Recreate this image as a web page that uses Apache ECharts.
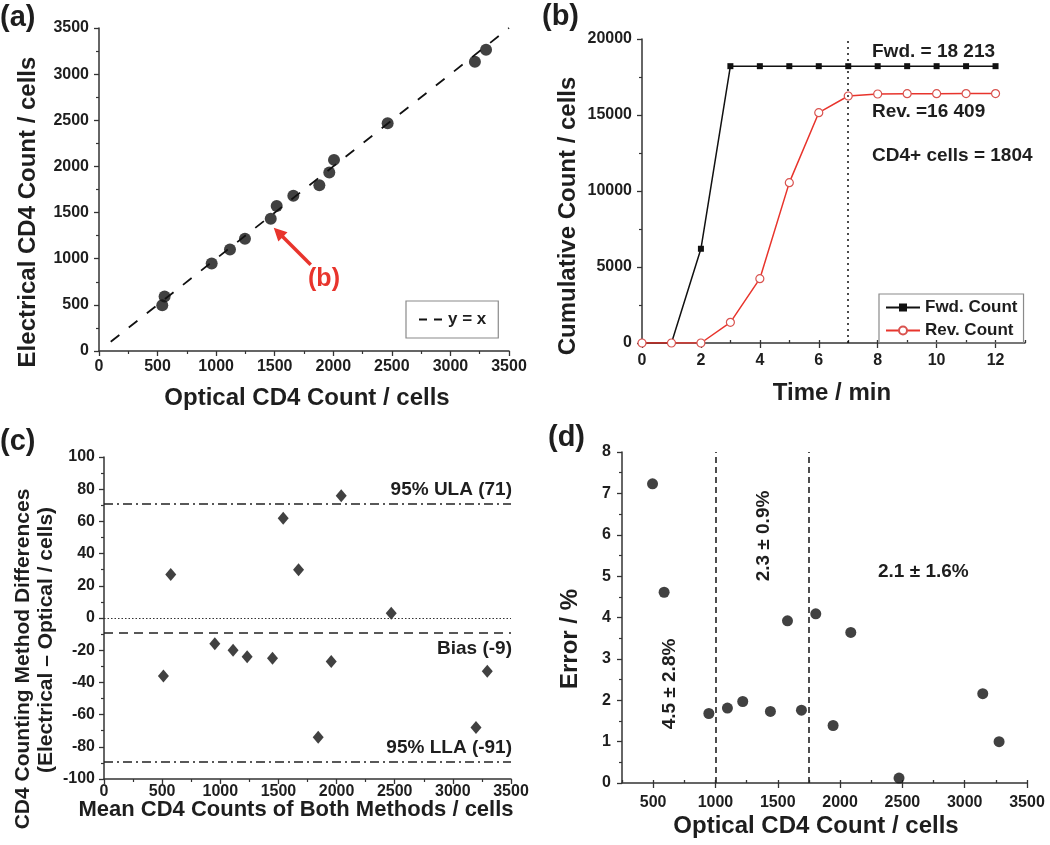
<!DOCTYPE html>
<html><head><meta charset="utf-8">
<script src="https://cdn.jsdelivr.net/npm/echarts@6/dist/echarts.min.js"></script>
<style>html,body{margin:0;padding:0;background:#fff}#c{width:1050px;height:845px}</style>
</head><body><div id="c"></div><script>
// ---------- Panel (a) ----------
const opticalA = [540, 560, 962, 1118, 1246, 1466, 1517, 1659, 1881, 1966, 2006, 2464, 3209, 3304];
const electricalA = [496, 590, 949, 1101, 1216, 1433, 1571, 1683, 1796, 1933, 2071, 2469, 3135, 3265];
const identityLine = [[100, 100], [3500, 3500]];
const arrowTarget = [1466, 1433];
// ---------- Panel (b) ----------
const timeMin = [0, 1, 2, 3, 4, 5, 6, 7, 8, 9, 10, 11, 12];
const fwdCount = [0, 0, 6200, 18213, 18213, 18213, 18213, 18213, 18213, 18213, 18213, 18213, 18213];
const revCount = [0, 0, 0, 1360, 4230, 10550, 15150, 16250, 16380, 16400, 16405, 16409, 16409];
const stopTime = 7;
const xTicksB = [0, 2, 4, 6, 8, 10, 12];
// ---------- Panel (c) ----------
const meanC = [511, 574, 953, 1110, 1231, 1449, 1541, 1673, 1842, 1954, 2040, 2470, 3199, 3296];
const diffC = [-36, 27, -16, -20, -24, -25, 62, 30, -74, -27, 76, 3, -68, -33];
const biasC = -9, ulaC = 71, llaC = -89;
// ---------- Panel (d) ----------
const opticalD = [495, 588, 947, 1096, 1219, 1441, 1578, 1690, 1805, 1944, 2086, 2473, 3145, 3276];
const errorD = [7.23, 4.61, 1.68, 1.81, 1.97, 1.73, 3.92, 1.76, 4.09, 1.39, 3.64, 0.12, 2.16, 1.0];
const rangeBounds = [1000, 1750];
const xTicksD = [500, 1000, 1500, 2000, 2500, 3000, 3500];

const FONT = "'Liberation Sans', Arial, sans-serif";
const INK = '#1e1e1e';
const AX = '#333';

function axis(o) {
  const base = {
    axisLine: { show: true, onZero: false, lineStyle: { color: AX, width: 1.5 } },
    axisTick: { show: true, length: 5, lineStyle: { color: AX, width: 1.3 } },
    minorTick: { show: true, splitNumber: 2, length: 3, lineStyle: { color: AX, width: 1.2 } },
    splitLine: { show: false },
    axisLabel: { fontFamily: FONT, fontWeight: 'bold', fontSize: 16, color: INK, margin: 9,
      formatter: v => String(v) }
  };
  const r = Object.assign({}, base, o);
  if (o.axisLabel) r.axisLabel = Object.assign({}, base.axisLabel, o.axisLabel);
  if (o.axisTick) r.axisTick = Object.assign({}, base.axisTick, o.axisTick);
  if (o.minorTick) r.minorTick = Object.assign({}, base.minorTick, o.minorTick);
  return r;
}

function txt(x, y, text, opt) {
  opt = opt || {};
  return {
    type: 'text', x: x, y: y, rotation: opt.rot || 0, z: 100,
    style: {
      text: text, fontFamily: FONT, fontWeight: 'bold', fontSize: opt.size || 19,
      fill: opt.color || INK, align: opt.align || 'left', verticalAlign: 'middle'
    }
  };
}
const V = Math.PI / 2;

const chart = echarts.init(document.getElementById('c'), null, { renderer: 'canvas' });
const option = {
  backgroundColor: '#fff',
  animation: false,
  grid: [
    { left: 99, top: 28, width: 410, height: 323 },
    { left: 642, top: 39, width: 383, height: 304 },
    { left: 104, top: 457, width: 407, height: 322 },
    { left: 622, top: 452, width: 405, height: 331 }
  ],
  xAxis: [
    axis({ gridIndex: 0, type: 'value', min: 0, max: 3500, interval: 500, axisLabel: { margin: 8 } }),
    axis({ gridIndex: 1, type: 'value', min: 0, max: 13, interval: 1,
      axisTick: { customValues: xTicksB }, minorTick: { show: false },
      axisLabel: { customValues: xTicksB, margin: 10 } }),
    axis({ gridIndex: 2, type: 'value', min: 0, max: 3500, interval: 500, axisLabel: { margin: 5 } }),
    axis({ gridIndex: 3, type: 'value', min: 250, max: 3500, interval: 250,
      axisTick: { customValues: xTicksD }, minorTick: { show: false },
      axisLabel: { customValues: xTicksD, margin: 12 } }),
    // minor-tick overlays
    axis({ gridIndex: 1, type: 'value', min: 0, max: 13, interval: 1, axisLine: { show: false },
      axisTick: { length: 3 }, minorTick: { show: false }, axisLabel: { show: false } }),
    axis({ gridIndex: 3, type: 'value', min: 250, max: 3500, interval: 250, axisLine: { show: false },
      axisTick: { length: 3 }, minorTick: { show: false }, axisLabel: { show: false } })
  ],
  yAxis: [
    axis({ gridIndex: 0, type: 'value', min: 0, max: 3500, interval: 500, axisLabel: { margin: 10 } }),
    axis({ gridIndex: 1, type: 'value', min: 0, max: 20000, interval: 5000, axisLabel: { margin: 10 } }),
    axis({ gridIndex: 2, type: 'value', min: -100, max: 100, interval: 20, axisLabel: { margin: 9 } }),
    axis({ gridIndex: 3, type: 'value', min: 0, max: 8, interval: 1, axisLabel: { margin: 11 } })
  ],
  legend: [
    {
      data: [{ name: 'y = x', itemStyle: { opacity: 0 } }], left: 406, top: 301, orient: 'vertical',
      borderColor: '#8a8a8a', borderWidth: 1.2, padding: [10, 12, 10, 12],
      itemWidth: 24, itemHeight: 12, itemGap: 0,
      lineStyle: { type: [8, 7], width: 2, color: '#111' },
      textStyle: { fontFamily: FONT, fontWeight: 'bold', fontSize: 17, color: INK }
    },
    {
      data: ['Fwd. Count', 'Rev. Count'], left: 879, top: 294, orient: 'vertical',
      borderColor: '#8a8a8a', borderWidth: 1.2, padding: [5, 6, 4, 6], itemGap: 6,
      itemWidth: 34, itemHeight: 10,
      textStyle: { fontFamily: FONT, fontWeight: 'bold', fontSize: 17, color: INK }
    }
  ],
  series: [
    {
      name: 'y = x', type: 'line', xAxisIndex: 0, yAxisIndex: 0, data: identityLine,
      symbol: 'none', z: 1,
      lineStyle: { color: '#111', width: 1.8, type: [11, 12] }, itemStyle: { color: '#111' }
    },
    {
      name: 'Electrical vs Optical', type: 'scatter', xAxisIndex: 0, yAxisIndex: 0,
      data: opticalA.map((v, i) => [v, electricalA[i]]),
      symbol: 'circle', symbolSize: 12, itemStyle: { color: '#111' }, z: 3
    },
    {
      name: 'Fwd. Count', type: 'line', xAxisIndex: 1, yAxisIndex: 1,
      data: timeMin.map((t, i) => [t, fwdCount[i]]),
      symbol: 'rect', symbolSize: 6, z: 3,
      lineStyle: { color: '#111', width: 1.5 }, itemStyle: { color: '#111' },
      markLine: {
        silent: true, symbol: 'none', label: { show: false },
        lineStyle: { color: '#111', width: 1.5, type: [2, 4] },
        data: [{ xAxis: stopTime }]
      }
    },
    {
      name: 'Rev. Count', type: 'line', xAxisIndex: 1, yAxisIndex: 1,
      data: timeMin.map((t, i) => [t, revCount[i]]),
      symbol: 'circle', symbolSize: 8, z: 4,
      lineStyle: { color: '#e8342c', width: 1.5 },
      itemStyle: { color: '#fff', borderColor: '#d9534f', borderWidth: 1.2 }
    },
    {
      name: 'Differences', type: 'scatter', xAxisIndex: 2, yAxisIndex: 2,
      data: meanC.map((v, i) => [v, diffC[i]]),
      symbol: 'diamond', symbolSize: [11, 13], itemStyle: { color: '#111' }, z: 3,
      markLine: {
        silent: true, symbol: 'none', label: { show: false },
        data: [
          { yAxis: ulaC, lineStyle: { color: '#222', width: 1.5, type: [9, 4, 2, 4] } },
          { yAxis: 0, lineStyle: { color: '#333', width: 1.2, type: [1.5, 2] } },
          { yAxis: biasC, lineStyle: { color: '#222', width: 1.6, type: [9, 6] } },
          { yAxis: llaC, lineStyle: { color: '#222', width: 1.5, type: [9, 4, 2, 4] } }
        ]
      }
    },
    {
      name: 'Error', type: 'scatter', xAxisIndex: 3, yAxisIndex: 3,
      data: opticalD.map((v, i) => [v, errorD[i]]),
      symbol: 'circle', symbolSize: 11, itemStyle: { color: '#111' }, z: 3,
      markLine: {
        silent: true, symbol: 'none', label: { show: false },
        lineStyle: { color: '#222', width: 1.6, type: [6, 4] },
        data: rangeBounds.map(v => ({ xAxis: v }))
      }
    }
  ],
  graphic: [
    // panel letters
    txt(0, 18, '(a)', { size: 29 }),
    txt(542, 17, '(b)', { size: 29 }),
    txt(0, 442, '(c)', { size: 29 }),
    txt(548, 438, '(d)', { size: 29 }),
    // panel (a) titles
    txt(307, 398, 'Optical CD4 Count / cells', { size: 24, align: 'center' }),
    txt(28, 212, 'Electrical CD4 Count / cells', { size: 24, align: 'center', rot: V }),
    txt(324, 279, '(b)', { size: 25, align: 'center', color: '#e8342c' }),
    // panel (b) titles & notes
    txt(832, 393, 'Time / min', { size: 24, align: 'center' }),
    txt(568, 216, 'Cumulative Count / cells', { size: 24, align: 'center', rot: V }),
    txt(872, 52, 'Fwd. = 18 213', { size: 19 }),
    txt(872, 112, 'Rev. =16 409', { size: 19 }),
    txt(872, 156, 'CD4+ cells = 1804', { size: 19 }),
    // panel (c)
    txt(296, 810, 'Mean CD4 Counts of Both Methods / cells', { size: 22, align: 'center' }),
    txt(23, 659, 'CD4 Counting Method Differences', { size: 21, align: 'center', rot: V }),
    txt(46, 640, '(Electrical \u2013 Optical / cells)', { size: 21, align: 'center', rot: V }),
    txt(512, 490, '95% ULA (71)', { size: 19, align: 'right' }),
    txt(512, 649, 'Bias (-9)', { size: 19, align: 'right' }),
    txt(512, 748, '95% LLA (-91)', { size: 19, align: 'right' }),
    // panel (d)
    txt(816, 826, 'Optical CD4 Count / cells', { size: 24, align: 'center' }),
    txt(570, 639, 'Error / %', { size: 24, align: 'center', rot: V }),
    txt(878, 572, '2.1 \u00b1 1.6%', { size: 19 }),
    txt(764, 536, '2.3 \u00b1 0.9%', { size: 19, align: 'center', rot: V }),
    txt(670, 684, '4.5 \u00b1 2.8%', { size: 19, align: 'center', rot: V })
  ]
};
chart.setOption(option);

// red arrow pointing at the annotated sample in panel (a)
const tip = chart.convertToPixel({ xAxisIndex: 0, yAxisIndex: 0 }, arrowTarget);
const tx = tip[0] + 3, ty = tip[1] + 9;
const sx = tx + 37, sy = ty + 37;
const dx = tx - sx, dy = ty - sy, len = Math.hypot(dx, dy);
const ux = dx / len, uy = dy / len, px = -uy, py = ux;
const hl = 13, hw = 6.5;
const bx = tx - ux * hl, by = ty - uy * hl;
chart.setOption({
  graphic: option.graphic.concat([
    { type: 'line', z: 100, shape: { x1: sx, y1: sy, x2: bx + ux * 2, y2: by + uy * 2 },
      style: { stroke: '#e8342c', lineWidth: 3.5 } },
    { type: 'polygon', z: 100, shape: { points: [[tx, ty], [bx + px * hw, by + py * hw], [bx - px * hw, by - py * hw]] },
      style: { fill: '#e8342c' } }
  ])
}, { replaceMerge: ['graphic'] });
</script></body></html>
